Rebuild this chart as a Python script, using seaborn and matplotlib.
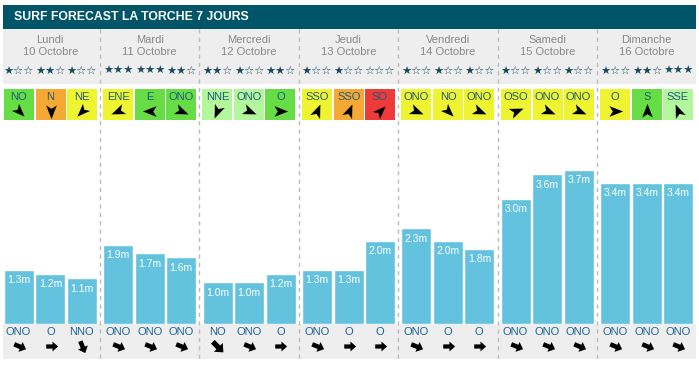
#!/usr/bin/env python3

# Surf forecast La Torche, 7 days: wave height bars with wind / swell boxes

import numpy as np
import seaborn as sns
import matplotlib.pyplot as plt
from matplotlib.patches import Rectangle

days = ["Lundi", "Mardi", "Mercredi", "Jeudi", "Vendredi", "Samedi", "Dimanche"]
dates = ["10 Octobre", "11 Octobre", "12 Octobre", "13 Octobre", "14 Octobre", "15 Octobre", "16 Octobre"]
stars = [[1, 2, 1], [3, 3, 2], [2, 1, 2], [1, 1, 0], [1, 1, 1], [1, 1, 1], [1, 2, 3]]
wind_dir = [["NO", "N", "NE"], ["ENE", "E", "ONO"], ["NNE", "ONO", "O"], ["SSO", "SSO", "SO"],
            ["ONO", "NO", "ONO"], ["OSO", "ONO", "ONO"], ["O", "S", "SSE"]]
wind_level = [["green", "orange", "yellow"], ["yellow", "green", "green"], ["light", "light", "green"],
              ["yellow", "orange", "red"], ["yellow", "yellow", "yellow"], ["yellow", "yellow", "yellow"],
              ["yellow", "green", "light"]]
wave_h = [[1.3, 1.2, 1.1], [1.9, 1.7, 1.6], [1.0, 1.0, 1.2], [1.3, 1.3, 2.0],
          [2.3, 2.0, 1.8], [3.0, 3.6, 3.7], [3.4, 3.4, 3.4]]
swell_dir = [["ONO", "O", "NNO"], ["ONO", "ONO", "ONO"], ["NO", "ONO", "O"], ["ONO", "O", "O"],
             ["ONO", "O", "O"], ["ONO", "ONO", "ONO"], ["ONO", "ONO", "ONO"]]

level_colors = {"green": "#66dd44", "orange": "#f5a833", "yellow": "#eef530",
                "light": "#b3f79c", "red": "#ef3a3a"}
compass = ["N", "NNE", "NE", "ENE", "E", "ESE", "SE", "SSE",
           "S", "SSO", "SO", "OSO", "O", "ONO", "NO", "NNO"]

W, H = 699, 367
col_x0, col_w = 0.6, 99.4
slot_off = [18, 50, 81]          # bar centres inside a column (px)
bar_top_px, bar_base_px, px_per_m = 130, 324, 41.6

sns.set_theme(style="white")
plt.rcParams["font.family"] = ["Liberation Sans", "DejaVu Sans"]

nav_arrow = np.array([(0, 1), (0.7, -0.8), (0, -0.35), (-0.7, -0.8), (0, 1)])
block_arrow = np.array([(0, 1), (0.75, 0.15), (0.32, 0.15), (0.32, -0.8), (-0.32, -0.8),
                        (-0.32, 0.15), (-0.75, 0.15), (0, 1)])


def rotated(shape, name):
    # arrows point to where the wind / swell goes
    toward = compass.index(name) * 22.5 + 180
    t = np.deg2rad(-toward)
    rot = np.array([[np.cos(t), -np.sin(t)], [np.sin(t), np.cos(t)]])
    return [tuple(p) for p in shape @ rot.T]


fig = plt.figure(figsize=(W / 100, H / 100), dpi=100)
bg = fig.add_axes([0, 0, 1, 1])
bg.set_xlim(0, W)
bg.set_ylim(H, 0)
bg.axis("off")

# title bar, header and footer
bg.add_patch(Rectangle((3, 5), 693, 24, color="#005568", lw=0))
bg.text(14, 17.5, "SURF FORECAST LA TORCHE 7 JOURS", color="white", fontsize=8.8,
        fontweight="bold", va="center", ha="left")
bg.add_patch(Rectangle((3, 29), 693, 55, color="#eeeeee", lw=0))
bg.add_patch(Rectangle((3, 324), 693, 35, color="#eeeeee", lw=0))

for i in range(1, len(days)):
    x = col_x0 + col_w * i
    bg.plot([x, x], [29, 359], color="#bbbbbb", lw=1, ls=(0, (3, 3)))

for i, day in enumerate(days):
    left = col_x0 + col_w * i
    cx = left + col_w / 2
    bg.text(cx, 40, day, color="#888888", fontsize=8, ha="center", va="center")
    bg.text(cx, 52, dates[i], color="#888888", fontsize=8, ha="center", va="center")
    for j in range(3):
        sx = left + slot_off[j]
        n = stars[i][j]
        bg.text(sx, 71, "\u2605" * n + "\u2606" * (3 - n), color="#1b4b60", fontsize=8.1,
                ha="center", va="center", family="DejaVu Sans")
        # wind box
        bg.add_patch(Rectangle((sx - 15, 89), 30, 31, color=level_colors[wind_level[i][j]], lw=0))
        bg.text(sx, 97.5, wind_dir[i][j], color="#1f5b7a", fontsize=8, ha="center", va="center")
        bg.scatter([sx], [110.5], marker=rotated(nav_arrow, wind_dir[i][j]), s=120, color="black", lw=0)
        # swell
        bg.text(sx, 332, swell_dir[i][j], color="#1a6596", fontsize=8, ha="center", va="center")
        bg.scatter([sx], [346], marker=rotated(block_arrow, swell_dir[i][j]), s=90, color="black", lw=0)

    # wave height bars
    ax = fig.add_axes([(left + 2.5) / W, (H - bar_base_px) / H, 94.5 / W,
                       (bar_base_px - bar_top_px) / H])
    sns.barplot(x=[0, 1, 2], y=wave_h[i], color="#63c3de", saturation=1, width=0.95,
                errorbar=None, ax=ax)
    ax.set_xlim(-0.5, 2.5)
    ax.set_ylim(0, (bar_base_px - bar_top_px) / px_per_m)
    ax.bar_label(ax.containers[0], labels=[f"{h:.1f}m" for h in wave_h[i]], padding=-11,
                 color="white", fontsize=7.5)
    ax.axis("off")

fig.savefig("out.png", dpi=100)
